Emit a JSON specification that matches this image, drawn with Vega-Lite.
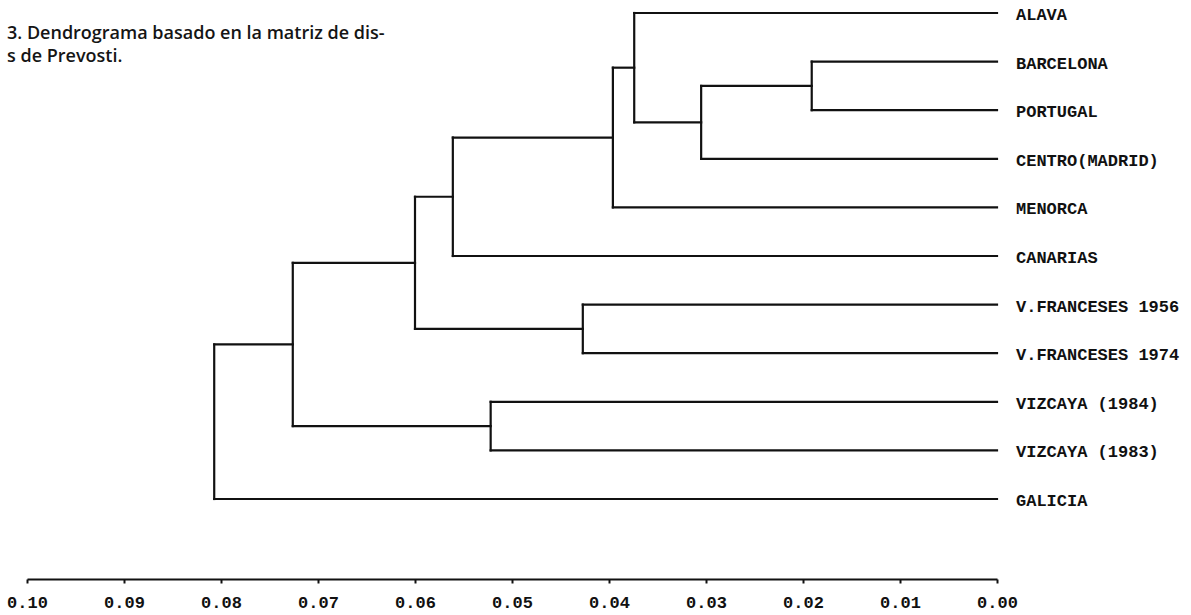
{
  "$schema": "https://vega.github.io/schema/vega-lite/v6.json",
  "width": 970,
  "height": 579,
  "autosize": {"type": "none"},
  "padding": {"left": 27, "top": 0, "right": 194, "bottom": 36},
  "background": "white",
  "title": {
    "text": ["3. Dendrograma basado en la matriz de dis-", "s de Prevosti."],
    "anchor": "start",
    "frame": "group",
    "orient": "top",
    "offset": -66,
    "dx": -20,
    "font": "Open Sans",
    "fontSize": 18,
    "fontWeight": 600,
    "lineHeight": 23,
    "color": "#151515"
  },
  "config": {
    "view": {"stroke": null},
    "axis": {"grid": false}
  },
  "layer": [
    {
      "data": {
        "values": [
          {"d1": 0, "d2": 0.0374, "p1": 0, "p2": 0},
          {"d1": 0, "d2": 0.0191, "p1": 1, "p2": 1},
          {"d1": 0, "d2": 0.0191, "p1": 2, "p2": 2},
          {"d1": 0, "d2": 0.0305, "p1": 3, "p2": 3},
          {"d1": 0, "d2": 0.0396, "p1": 4, "p2": 4},
          {"d1": 0, "d2": 0.0561, "p1": 5, "p2": 5},
          {"d1": 0, "d2": 0.0427, "p1": 6, "p2": 6},
          {"d1": 0, "d2": 0.0427, "p1": 7, "p2": 7},
          {"d1": 0, "d2": 0.0522, "p1": 8, "p2": 8},
          {"d1": 0, "d2": 0.0522, "p1": 9, "p2": 9},
          {"d1": 0, "d2": 0.0807, "p1": 10, "p2": 10},
          {"d1": 0.0191, "d2": 0.0305, "p1": 1.5, "p2": 1.5},
          {"d1": 0.0305, "d2": 0.0374, "p1": 2.25, "p2": 2.25},
          {"d1": 0.0374, "d2": 0.0396, "p1": 1.125, "p2": 1.125},
          {"d1": 0.0396, "d2": 0.0561, "p1": 2.5625, "p2": 2.5625},
          {"d1": 0.0561, "d2": 0.0600, "p1": 3.78125, "p2": 3.78125},
          {"d1": 0.0427, "d2": 0.0600, "p1": 6.5, "p2": 6.5},
          {"d1": 0.0600, "d2": 0.0726, "p1": 5.140625, "p2": 5.140625},
          {"d1": 0.0522, "d2": 0.0726, "p1": 8.5, "p2": 8.5},
          {"d1": 0.0726, "d2": 0.0807, "p1": 6.8203, "p2": 6.8203},
          {"d1": 0.0191, "d2": 0.0191, "p1": 1, "p2": 2},
          {"d1": 0.0305, "d2": 0.0305, "p1": 1.5, "p2": 3},
          {"d1": 0.0374, "d2": 0.0374, "p1": 0, "p2": 2.25},
          {"d1": 0.0396, "d2": 0.0396, "p1": 1.125, "p2": 4},
          {"d1": 0.0561, "d2": 0.0561, "p1": 2.5625, "p2": 5},
          {"d1": 0.0427, "d2": 0.0427, "p1": 6, "p2": 7},
          {"d1": 0.0600, "d2": 0.0600, "p1": 3.78125, "p2": 6.5},
          {"d1": 0.0522, "d2": 0.0522, "p1": 8, "p2": 9},
          {"d1": 0.0726, "d2": 0.0726, "p1": 5.140625, "p2": 8.5},
          {"d1": 0.0807, "d2": 0.0807, "p1": 6.8203, "p2": 10}
        ]
      },
      "mark": {"type": "rule", "color": "#111111", "strokeWidth": 2.2, "strokeCap": "square"},
      "encoding": {
        "x": {
          "field": "d1",
          "type": "quantitative",
          "scale": {"domain": [0, 0.1], "reverse": true, "nice": false, "zero": false},
          "axis": {
            "title": null,
            "values": [0, 0.01, 0.02, 0.03, 0.04, 0.05, 0.06, 0.07, 0.08, 0.09, 0.1],
            "format": ".2f",
            "labelFont": "Liberation Mono",
            "labelFontWeight": "bold",
            "labelFontSize": 17,
            "labelColor": "#111111",
            "labelPadding": 11,
            "labelFlush": false,
            "labelBound": false,
            "labelOverlap": false,
            "domainColor": "#111111",
            "domainWidth": 2,
            "tickColor": "#111111",
            "tickWidth": 2,
            "tickSize": 4
          }
        },
        "x2": {"field": "d2"},
        "y": {
          "field": "p1",
          "type": "quantitative",
          "scale": {"domain": [-0.2675, 11.646], "reverse": true, "nice": false, "zero": false},
          "axis": null
        },
        "y2": {"field": "p2"}
      }
    },
    {
      "data": {
        "values": [
          {"name": "ALAVA", "d": 0, "p": 0},
          {"name": "BARCELONA", "d": 0, "p": 1},
          {"name": "PORTUGAL", "d": 0, "p": 2},
          {"name": "CENTRO(MADRID)", "d": 0, "p": 3},
          {"name": "MENORCA", "d": 0, "p": 4},
          {"name": "CANARIAS", "d": 0, "p": 5},
          {"name": "V.FRANCESES 1956", "d": 0, "p": 6},
          {"name": "V.FRANCESES 1974", "d": 0, "p": 7},
          {"name": "VIZCAYA (1984)", "d": 0, "p": 8},
          {"name": "VIZCAYA (1983)", "d": 0, "p": 9},
          {"name": "GALICIA", "d": 0, "p": 10}
        ]
      },
      "mark": {
        "type": "text",
        "align": "left",
        "baseline": "middle",
        "dx": 19,
        "dy": 2,
        "font": "Liberation Mono",
        "fontWeight": "bold",
        "fontSize": 17,
        "color": "#111111"
      },
      "encoding": {
        "x": {"field": "d", "type": "quantitative"},
        "y": {"field": "p", "type": "quantitative"},
        "text": {"field": "name"}
      }
    }
  ]
}
